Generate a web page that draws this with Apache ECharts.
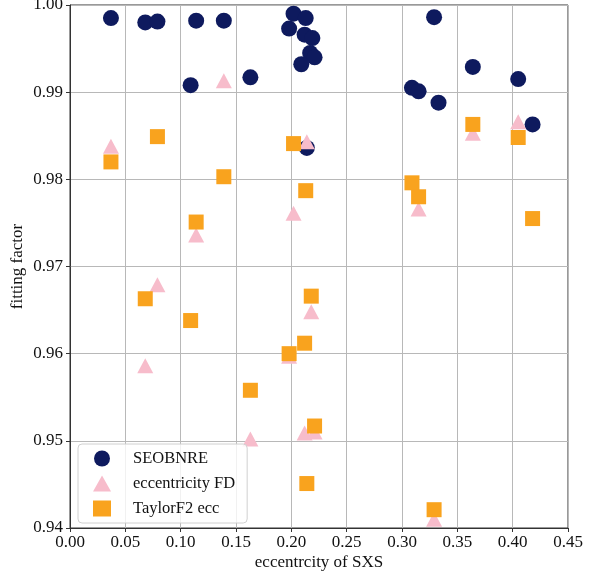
<!DOCTYPE html>
<html>
<head>
<meta charset="utf-8">
<script src="https://cdn.jsdelivr.net/npm/echarts@6/dist/echarts.min.js"></script>
<style>
  html, body { margin: 0; padding: 0; background: #fff; }
  #chart { width: 601px; height: 579px; }
</style>
</head>
<body>
<div id="chart"></div>
<script>
// SEOBNRE
let seobX = [0.037, 0.068, 0.079, 0.114, 0.139, 0.109, 0.163, 0.202, 0.213, 0.198, 0.212, 0.219,
             0.217, 0.221, 0.209, 0.214, 0.329, 0.364, 0.405, 0.309, 0.315, 0.333, 0.418];
let seobY = [0.9985, 0.9980, 0.9981, 0.9982, 0.9982, 0.9908, 0.9917, 0.9990, 0.9985, 0.9973, 0.9966, 0.9962,
             0.9945, 0.9940, 0.9932, 0.9836, 0.9986, 0.9929, 0.9915, 0.9905, 0.9901, 0.9888, 0.9863];
// eccentricity FD
let fdX = [0.037, 0.068, 0.079, 0.114, 0.139, 0.163, 0.198, 0.202, 0.212, 0.214, 0.218, 0.221,
           0.315, 0.329, 0.364, 0.405];
let fdY = [0.9838, 0.9586, 0.9679, 0.9736, 0.9913, 0.9502, 0.9597, 0.9761, 0.9509, 0.9843, 0.9648, 0.9510,
           0.9766, 0.9410, 0.9853, 0.9866];
// TaylorF2 ecc
let tf2X = [0.037, 0.068, 0.079, 0.109, 0.114, 0.139, 0.163, 0.198, 0.202, 0.212, 0.213, 0.214,
            0.218, 0.221, 0.309, 0.315, 0.329, 0.364, 0.405, 0.418];
let tf2Y = [0.9820, 0.9663, 0.9849, 0.9638, 0.9751, 0.9803, 0.9558, 0.9600, 0.9841, 0.9612, 0.9787, 0.9451,
            0.9666, 0.9517, 0.9796, 0.9780, 0.9421, 0.9863, 0.9848, 0.9755];

let xTicks = [0, 0.05, 0.10, 0.15, 0.20, 0.25, 0.30, 0.35, 0.40, 0.45];
let yTicks = [0.94, 0.95, 0.96, 0.97, 0.98, 0.99, 1.00];

function zip(xs, ys) {
    return xs.map(function (x, i) { return [x, ys[i]]; });
}

let font = '"Liberation Serif", "DejaVu Serif", serif';
let myChart = echarts.init(document.getElementById('chart'));

let option = {
    animation: false,
    textStyle: { fontFamily: font },
    grid: {
        left: 70, right: 33, top: 5, bottom: 51,
        outerBoundsMode: 'none',
        show: true, borderColor: '#333', borderWidth: 1
    },
    legend: {
        orient: 'vertical',
        left: 78,
        top: 444,
        padding: [6, 12, 6, 15],
        itemWidth: 18,
        itemHeight: 16,
        itemGap: 8,
        backgroundColor: 'rgba(255,255,255,0.8)',
        borderColor: '#d0d0d0',
        borderWidth: 1,
        borderRadius: 4,
        textStyle: { fontFamily: font, fontSize: 16.5, color: '#111', padding: [0, 0, 0, 17] },
        data: [
            { name: 'SEOBNRE', icon: 'circle' },
            { name: 'eccentricity FD', icon: 'triangle' },
            { name: 'TaylorF2 ecc', icon: 'rect' }
        ]
    },
    xAxis: {
        type: 'value',
        min: 0,
        max: 0.45,
        interval: 0.05,
        name: 'eccentrcity of SXS',
        nameLocation: 'middle',
        nameGap: 26,
        nameMoveOverlap: false,
        nameTextStyle: { fontFamily: font, fontSize: 17, color: '#111' },
        axisLine: { show: true, lineStyle: { color: '#333', width: 1 } },
        axisTick: { show: true, inside: false, length: 4, lineStyle: { color: '#333' } },
        axisLabel: {
            margin: 6, fontFamily: font, fontSize: 17, color: '#111',
            formatter: function (v) { return v.toFixed(2); },
            customValues: xTicks
        },
        splitLine: { show: true, lineStyle: { color: '#b8b8b8', width: 1 } }
    },
    yAxis: {
        type: 'value',
        min: 0.94,
        max: 1.00,
        interval: 0.01,
        name: 'fitting factor',
        nameLocation: 'middle',
        nameGap: 44,
        nameRotate: 90,
        nameMoveOverlap: false,
        nameTextStyle: { fontFamily: font, fontSize: 17, color: '#111' },
        axisLine: { show: true, lineStyle: { color: '#333', width: 1 } },
        axisTick: { show: true, inside: false, length: 4, lineStyle: { color: '#333' } },
        axisLabel: {
            margin: 7, fontFamily: font, fontSize: 17, color: '#111',
            formatter: function (v) { return v.toFixed(2); },
            customValues: yTicks
        },
        splitLine: { show: true, lineStyle: { color: '#b8b8b8', width: 1 } }
    },
    series: [
        {
            name: 'SEOBNRE',
            type: 'scatter',
            symbol: 'circle',
            symbolSize: 16,
            itemStyle: { color: '#0e1a5e', opacity: 1 },
            data: zip(seobX, seobY)
        },
        {
            name: 'eccentricity FD',
            type: 'scatter',
            symbol: 'triangle',
            symbolSize: [16, 15],
            itemStyle: { color: '#f7bccb', opacity: 1 },
            data: zip(fdX, fdY)
        },
        {
            name: 'TaylorF2 ecc',
            type: 'scatter',
            symbol: 'rect',
            symbolSize: 15,
            itemStyle: { color: '#f9a31e', opacity: 1 },
            data: zip(tf2X, tf2Y)
        }
    ]
};
myChart.setOption(option);
</script>
</body>
</html>
